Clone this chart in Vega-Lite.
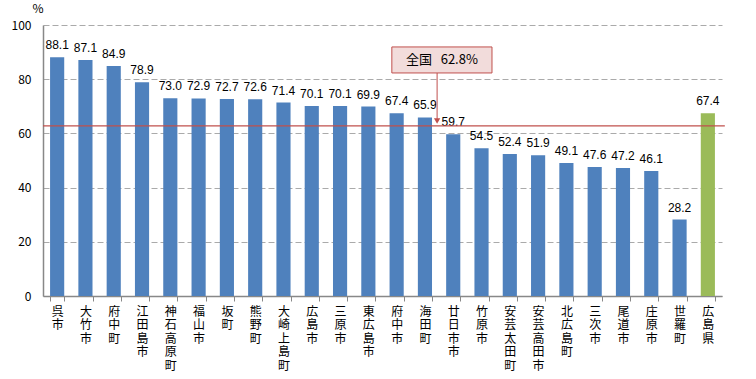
{
  "$schema": "https://vega.github.io/schema/vega-lite/v6.json",
  "width": 679,
  "height": 271,
  "autosize": "none",
  "padding": {"left": 43, "top": 25, "right": 34, "bottom": 83},
  "background": "white",
  "config": {
    "view": {"stroke": null},
    "font": "Noto Sans CJK JP"
  },
  "datasets": {
    "bars": [
      {"name": "呉市", "value": 88.1, "kind": "市町"},
      {"name": "大竹市", "value": 87.1, "kind": "市町"},
      {"name": "府中町", "value": 84.9, "kind": "市町"},
      {"name": "江田島市", "value": 78.9, "kind": "市町"},
      {"name": "神石高原町", "value": 73.0, "kind": "市町"},
      {"name": "福山市", "value": 72.9, "kind": "市町"},
      {"name": "坂町", "value": 72.7, "kind": "市町"},
      {"name": "熊野町", "value": 72.6, "kind": "市町"},
      {"name": "大崎上島町", "value": 71.4, "kind": "市町"},
      {"name": "広島市", "value": 70.1, "kind": "市町"},
      {"name": "三原市", "value": 70.1, "kind": "市町"},
      {"name": "東広島市", "value": 69.9, "kind": "市町"},
      {"name": "府中市", "value": 67.4, "kind": "市町"},
      {"name": "海田町", "value": 65.9, "kind": "市町"},
      {"name": "廿日市市", "value": 59.7, "kind": "市町"},
      {"name": "竹原市", "value": 54.5, "kind": "市町"},
      {"name": "安芸太田町", "value": 52.4, "kind": "市町"},
      {"name": "安芸高田市", "value": 51.9, "kind": "市町"},
      {"name": "北広島町", "value": 49.1, "kind": "市町"},
      {"name": "三次市", "value": 47.6, "kind": "市町"},
      {"name": "尾道市", "value": 47.2, "kind": "市町"},
      {"name": "庄原市", "value": 46.1, "kind": "市町"},
      {"name": "世羅町", "value": 28.2, "kind": "市町"},
      {"name": "広島県", "value": 67.4, "kind": "県"}
    ],
    "national": [
      {"label": "全国\u00a0\u00a0\u00a062.8%", "value": 62.8, "x0": 12.33, "x1": 15.87, "xa": 13.93, "xt": 14.1, "ytop": 91.9, "ybot": 82.3, "ymid": 87.1, "yhead": 64.6, "lx0": 0, "lx1": 24.1}
    ]
  },
  "layer": [
    {
      "data": {"name": "bars"},
      "layer": [
        {
          "mark": {"type": "bar"},
          "encoding": {
            "x": {
              "field": "name", "type": "nominal", "sort": null,
              "scale": {"paddingInner": 0.5, "paddingOuter": 0.25},
              "axis": {
                "title": null,
                "labelAngle": 0,
                "labelExpr": "split(datum.label, '')",
                "labelFontSize": 12,
                "labelLineHeight": 13.5,
                "labelBaseline": "top",
                "labelPadding": 5,
                "labelColor": "black",
                "tickBand": "extent",
                "ticks": true,
                "tickSize": 5,
                "tickColor": "#888888",
                "domainColor": "#888888",
                "domainWidth": 1.5,
                "grid": false
              }
            },
            "y": {
              "field": "value", "type": "quantitative",
              "scale": {"domain": [0, 100], "nice": false},
              "axis": {
                "title": "%",
                "titleAngle": 0,
                "titleFontSize": 12,
                "titleFontWeight": "normal",
                "titleX": 0,
                "titleY": -10,
                "titleAlign": "right",
                "values": [0, 20, 40, 60, 80, 100],
                "labelFontSize": 12,
                "labelColor": "black",
                "labelPadding": 12,
                "ticks": false,
                "domainColor": "#888888",
                "domainWidth": 1.5,
                "grid": true,
                "gridColor": "#aaaaaa",
                "gridDash": [6, 3],
                "gridWidth": 1
              }
            },
            "color": {
              "field": "kind", "type": "nominal",
              "scale": {"domain": ["市町", "県"], "range": ["#4F81BD", "#9BBB59"]},
              "legend": null
            }
          }
        },
        {
          "mark": {"type": "text", "baseline": "bottom", "dy": -5, "fontSize": 12, "color": "black", "font": "Liberation Sans"},
          "encoding": {
            "x": {"field": "name", "type": "nominal", "sort": null},
            "y": {"field": "value", "type": "quantitative"},
            "text": {"field": "value", "type": "quantitative", "format": ".1f"}
          }
        }
      ]
    },
    {
      "data": {"name": "national"},
      "layer": [
        {
          "mark": {"type": "rule", "color": "#C0504D", "strokeWidth": 1.3},
          "encoding": {
            "x": {"field": "lx0", "type": "quantitative", "scale": {"domain": [0, 24], "nice": false, "zero": false}, "axis": null},
            "x2": {"field": "lx1"},
            "y": {"field": "value", "type": "quantitative"}
          }
        },
        {
          "mark": {"type": "rule", "color": "#C0504D", "strokeWidth": 1},
          "encoding": {
            "x": {"field": "xa", "type": "quantitative", "scale": {"domain": [0, 24], "nice": false, "zero": false}, "axis": null},
            "y": {"field": "ybot", "type": "quantitative"},
            "y2": {"field": "yhead"}
          }
        },
        {
          "mark": {"type": "point", "shape": "triangle-down", "filled": true, "color": "#C0504D", "size": 40, "opacity": 1},
          "encoding": {
            "x": {"field": "xa", "type": "quantitative", "scale": {"domain": [0, 24], "nice": false, "zero": false}, "axis": null},
            "y": {"field": "yhead", "type": "quantitative"}
          }
        },
        {
          "mark": {"type": "rect", "fill": "#F2DCDB", "stroke": "#C0504D", "strokeWidth": 1},
          "encoding": {
            "x": {"field": "x0", "type": "quantitative", "scale": {"domain": [0, 24], "nice": false, "zero": false}, "axis": null},
            "x2": {"field": "x1"},
            "y": {"field": "ytop", "type": "quantitative"},
            "y2": {"field": "ybot"}
          }
        },
        {
          "mark": {"type": "text", "fontSize": 13, "color": "black", "align": "center", "baseline": "middle"},
          "encoding": {
            "x": {"field": "xt", "type": "quantitative", "scale": {"domain": [0, 24], "nice": false, "zero": false}, "axis": null},
            "y": {"field": "ymid", "type": "quantitative"},
            "text": {"field": "label"}
          }
        }
      ]
    }
  ],
  "resolve": {"scale": {"x": "independent", "y": "shared"}}
}
